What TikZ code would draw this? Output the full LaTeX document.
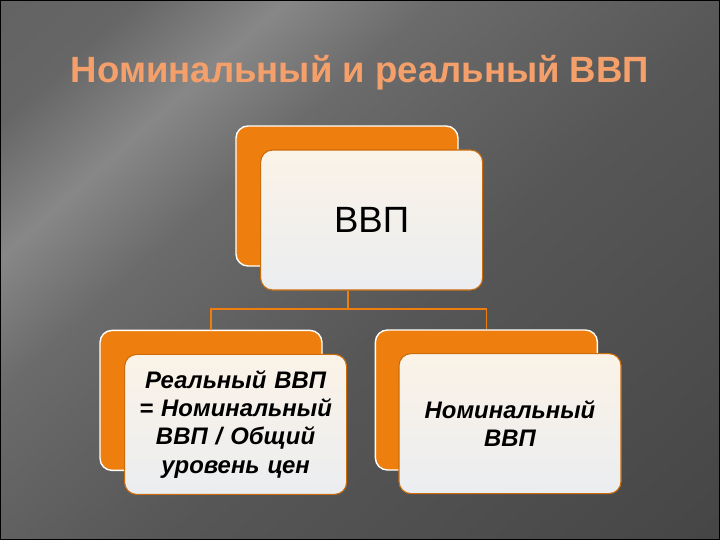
\documentclass[tikz,border=0pt]{standalone}
\usepackage{fontspec}
\setmainfont{Liberation Sans}
\usetikzlibrary{positioning}
\definecolor{boxorange}{HTML}{EE7F0E}
\definecolor{boxcream}{HTML}{FBF3E7}
\definecolor{boxgrey}{HTML}{EBEDF0}
\definecolor{titleorange}{HTML}{F5A06A}
\pgfdeclarehorizontalshading{slidebg}{100bp}{color(0bp)=(black!64); color(22bp)=(black!60);
  color(30bp)=(black!47); color(38bp)=(black!58); color(55bp)=(black!66); color(100bp)=(black!76)}

\tikzset{
  backbox/.style={draw=white, line width=1pt, fill=boxorange, rounded corners=0.3cm,
    minimum width=5.55cm, minimum height=3.5cm},
  frontbox/.style={draw=boxorange!85!black, line width=0.8pt, rounded corners=0.3cm,
    top color=boxcream, bottom color=boxgrey, minimum width=5.55cm, minimum height=3.5cm,
    align=center, text width=5.3cm},
  link/.style={draw=boxorange, line width=1.2pt}
}

\begin{document}
\begin{tikzpicture}
% background
\useasboundingbox (0,0) rectangle (18,-13.5);
\shade[shading=slidebg, shading angle=-48] (0,0) rectangle (18,-13.5);
\draw[black, line width=1.5pt] (0,0) rectangle (18,-13.5);

\node[text=titleorange, font=\bfseries\fontsize{26}{30}\selectfont] (title) at (9,-1.82)
  {Номинальный и реальный ВВП};

% boxes
\node[backbox] (topback) at (8.675,-4.9) {};
\node[backbox] (leftback) at (5.275,-10.01) {};
\node[backbox] (rightback) at (12.16,-10.0) {};

\coordinate (fork) at (8.7,-7.72);
\draw[link] (fork) -| (leftback.north);
\draw[link] (fork) -| (rightback.north);

\node[frontbox, font=\fontsize{26}{30}\selectfont] (topfront) at (9.29,-5.5) {ВВП};
\draw[link] (topfront.south -| fork) -- (fork);

\node[frontbox, font=\bfseries\itshape\fontsize{17}{20}\selectfont] (leftfront) at (5.89,-10.61)
  {Реальный ВВП\\= Номинальный\\ВВП / Общий\\уровень цен};
\node[frontbox, font=\bfseries\itshape\fontsize{17}{20}\selectfont] (rightfront) at (12.75,-10.59)
  {Номинальный\\ВВП};
\end{tikzpicture}
\end{document}
